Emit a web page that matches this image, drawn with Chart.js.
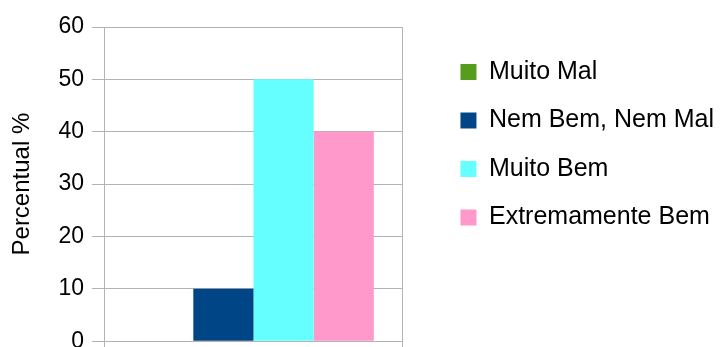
<!DOCTYPE html>
<html>
<head>
<meta charset="utf-8">
<script src="https://cdn.jsdelivr.net/npm/chart.js@4/dist/chart.umd.min.js"></script>
<style>
  html, body { margin: 0; padding: 0; background: #ffffff; overflow: hidden; }
  #wrap { position: relative; width: 724px; height: 363px; }
</style>
</head>
<body>
<div id="wrap"><canvas id="c"></canvas></div>
<script>
// ---- data ----
const categories = [''];
const seriesNames = ['Muito Mal', 'Nem Bem, Nem Mal', 'Muito Bem', 'Extremamente Bem'];
const seriesValues = [[0], [10], [50], [40]];
const seriesColors = ['#579d1c', '#004586', '#66ffff', '#ff99cc'];
const yTitle = 'Percentual %';
const yMin = 0, yMax = 60, yStep = 10;

const FONT = '"Liberation Sans", Arial, sans-serif';

const datasets = seriesNames.map((name, i) => ({
  label: name,
  data: seriesValues[i],
  backgroundColor: seriesColors[i],
  borderWidth: 0,
  categoryPercentage: 0.805,
  barPercentage: 1.0
}));

new Chart(document.getElementById('c'), {
  type: 'bar',
  data: { labels: categories, datasets },
  options: {
    responsive: true,
    maintainAspectRatio: false,
    animation: false,
    layout: { padding: { left: 4, right: 0, top: 27, bottom: 0 } },
    plugins: {
      tooltip: { enabled: false },
      legend: {
        position: 'right',
        align: 'start',
        maxWidth: 300,
        title: { display: true, text: '', font: { size: 9, lineHeight: 1 }, padding: 0 },
        labels: {
          boxWidth: 16,
          boxHeight: 16,
          padding: 23.5,
          color: '#000000',
          font: { family: FONT, size: 25 }
        }
      }
    },
    scales: {
      x: {
        offset: true,
        grid: { display: true, color: '#b3b3b3', lineWidth: 1, tickLength: 10, offset: true },
        border: { display: true, color: '#b3b3b3' },
        ticks: { display: false }
      },
      y: {
        min: yMin,
        max: yMax,
        afterFit: (s) => { s.width = 100; },
        ticks: { stepSize: yStep, color: '#000000', padding: 8, font: { family: FONT, size: 23 } },
        grid: { color: '#b3b3b3', lineWidth: 1, tickLength: 12 },
        border: { display: true, color: '#b3b3b3' },
        title: { display: true, text: yTitle, color: '#000000', padding: { top: 4, bottom: 4 }, font: { family: FONT, size: 24 } }
      },
      ySpacer: {
        type: 'linear',
        axis: 'y',
        position: 'right',
        display: true,
        grid: { display: false },
        border: { display: false },
        ticks: { display: false },
        afterFit: (s) => { s.width = 34; }
      }
    }
  }
});
</script>
</body>
</html>
